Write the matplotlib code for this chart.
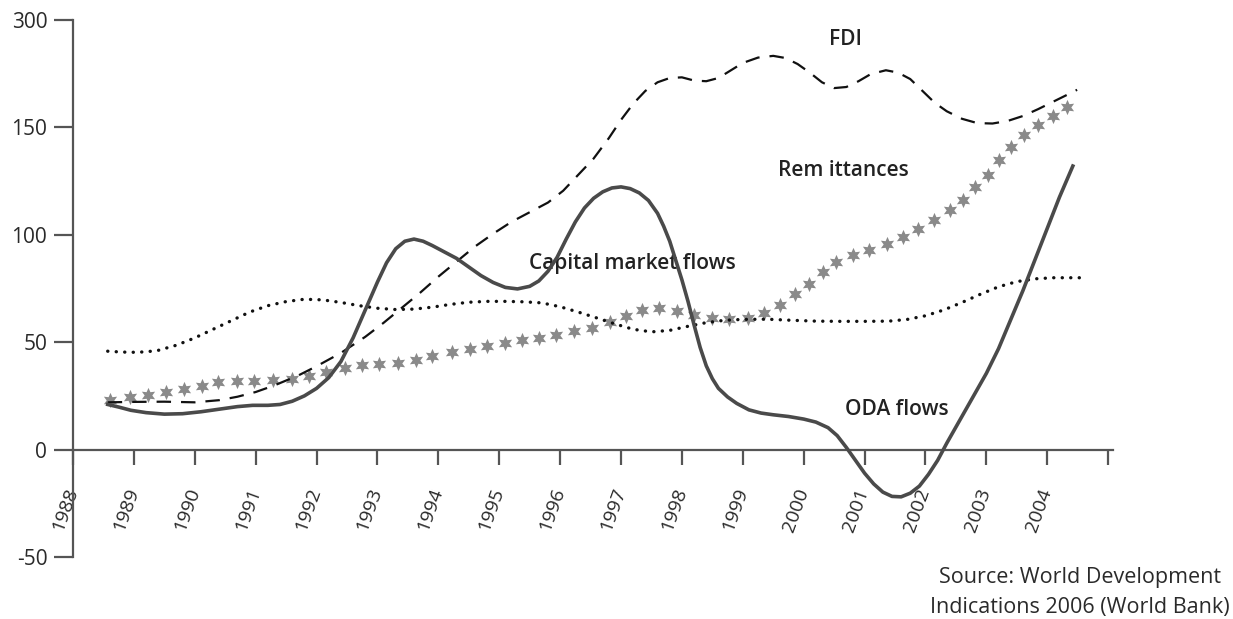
import matplotlib.pyplot as plt
from matplotlib.transforms import ScaledTranslation

plt.rcParams['font.family'] = ['Open Sans', 'DejaVu Sans']

# tick labels
years = list(range(1988, 2006))
year_labels = [str(y) for y in range(1988, 2005)] + ['']
y_ticks = [-50, 0, 50, 100, 150, 200]
y_labels = ['-50', '0', '50', '100', '150', '300']

# ODA flows (solid)
oda_x = [1988.57, 1988.75, 1988.95, 1989.2, 1989.5, 1989.8, 1990.1, 1990.4, 1990.7, 1990.95,
         1991.2, 1991.4, 1991.6, 1991.8, 1992.0, 1992.2, 1992.4, 1992.6, 1992.8, 1993.0,
         1993.15, 1993.3, 1993.45, 1993.6, 1993.75, 1993.9, 1994.1, 1994.3, 1994.5, 1994.7,
         1994.9, 1995.1, 1995.3, 1995.5, 1995.65, 1995.8, 1995.95, 1996.1, 1996.25, 1996.4,
         1996.55, 1996.7, 1996.85, 1997.0, 1997.15, 1997.3, 1997.45, 1997.6, 1997.7, 1997.8,
         1997.9, 1998.0, 1998.1, 1998.2, 1998.3, 1998.4, 1998.5, 1998.6, 1998.75, 1998.9,
         1999.1, 1999.3, 1999.5, 1999.75, 2000.0, 2000.2, 2000.4, 2000.55, 2000.7, 2000.85,
         2001.0, 2001.15, 2001.3, 2001.45, 2001.6, 2001.75, 2001.9, 2002.05, 2002.2, 2002.35,
         2002.5, 2002.65, 2002.8, 2003.0, 2003.2, 2003.4, 2003.6, 2003.8, 2004.0, 2004.2,
         2004.42]
oda_y = [21, 19.8, 18.3, 17.2, 16.5, 16.7, 17.6, 18.8, 20, 20.6,
         20.6, 21, 22.5, 25, 28.5, 33.5, 41, 52, 65, 78,
         87, 93.5, 97, 98, 97, 95, 92, 89, 85, 81,
         77.8, 75.5, 74.8, 76, 78.5, 83, 89.5, 98, 106, 112.5,
         117, 120, 121.8, 122.3, 121.5, 119.5, 116, 110, 104, 97,
         88, 79, 69, 58, 47.5, 39, 33, 28.5, 24.5, 21.5,
         18.5, 17, 16.2, 15.4, 14.2, 12.8, 10.2, 6.5, 1, -5,
         -11, -16, -19.8, -21.8, -22, -20.3, -17, -11.5, -5, 3,
         10.5, 18, 25.5, 35.5, 47, 60.5, 74, 88.5, 103, 117.5,
         132]

# FDI (dashed)
fdi_x = [1988.57, 1989.0, 1989.5, 1990.0, 1990.4, 1990.7, 1991.0, 1991.3, 1991.7, 1992.0,
         1992.4, 1992.8, 1993.1, 1993.4, 1993.7, 1994.0, 1994.3, 1994.6, 1994.9, 1995.2,
         1995.5, 1995.8, 1996.05, 1996.3, 1996.55, 1996.8, 1997.0, 1997.2, 1997.4, 1997.6,
         1997.8, 1998.0, 1998.2, 1998.4, 1998.6, 1998.8, 1999.0, 1999.25, 1999.5, 1999.7,
         1999.9, 2000.1, 2000.3, 2000.5, 2000.7, 2000.9, 2001.1, 2001.35, 2001.55, 2001.75,
         2001.95, 2002.15, 2002.35, 2002.6, 2002.85, 2003.1, 2003.35, 2003.6, 2003.85, 2004.1,
         2004.3, 2004.49]
fdi_y = [22, 22.2, 22.3, 22, 23, 24.6, 26.8, 29.8, 34.5, 38.8,
         45, 52.5, 59, 66, 73, 80.5, 87.5, 94.5, 100.5, 106,
         110.5, 115, 120.5, 128, 135.5, 145, 153.5, 161, 167, 171,
         173, 173.3, 171.8, 171.5, 173, 176.5, 180, 182.5, 183.3, 182.3,
         179.5, 175.5, 171, 168.3, 168.8, 171.5, 174.8, 176.6, 175.5, 172.5,
         167, 161.5, 157.5, 154, 152, 151.8, 153, 155.3, 158.5, 162,
         164.8, 167.5]

# Capital market flows (dotted)
cap_x = [1988.57, 1988.8, 1989.0, 1989.2, 1989.4, 1989.7, 1990.0, 1990.3, 1990.6, 1990.9,
         1991.2, 1991.5, 1991.8, 1992.1, 1992.4, 1992.7, 1993.0, 1993.3, 1993.6, 1993.9,
         1994.2, 1994.5, 1994.8, 1995.1, 1995.4, 1995.7, 1996.0, 1996.3, 1996.6, 1996.9,
         1997.2, 1997.5, 1997.8, 1998.1, 1998.4, 1998.7, 1999.0, 1999.4, 1999.8, 2000.2,
         2000.6, 2001.0, 2001.4, 2001.7, 2002.0, 2002.3, 2002.6, 2002.9, 2003.2, 2003.5,
         2003.8, 2004.1, 2004.66]
cap_y = [45.8, 45.4, 45.3, 45.5, 46.2, 48.6, 52, 56, 60, 64,
         67, 68.9, 70, 69.7, 68.5, 67, 65.8, 65.2, 65.4, 66.3,
         67.6, 68.6, 69, 69, 68.8, 68.3, 66.5, 64, 61.3, 58.5,
         56, 54.8, 55.5, 57.4, 59.1, 60.2, 60.6, 60.7, 60.2, 59.8,
         59.7, 59.7, 59.8, 60.6, 62.3, 65, 68.5, 72.3, 75.8, 78.2,
         79.5, 80, 80]

# Remittances (grey stars)
rem_x = [1988.61, 1988.94, 1989.23, 1989.53, 1989.83, 1990.12, 1990.38, 1990.70, 1990.98, 1991.29,
         1991.59, 1991.87, 1992.16, 1992.46, 1992.75, 1993.03, 1993.33, 1993.64, 1993.89, 1994.22,
         1994.52, 1994.80, 1995.09, 1995.38, 1995.65, 1995.94, 1996.23, 1996.52, 1996.82, 1997.08,
         1997.34, 1997.63, 1997.92, 1998.20, 1998.50, 1998.78, 1999.08, 1999.35, 1999.61, 1999.85,
         2000.09, 2000.31, 2000.53, 2000.81, 2001.08, 2001.36, 2001.63, 2001.88, 2002.14, 2002.40,
         2002.62, 2002.81, 2003.03, 2003.21, 2003.40, 2003.62, 2003.85, 2004.10, 2004.33]
rem_y = [22.9, 24.3, 25.2, 26.6, 28.0, 29.4, 31.3, 31.8, 31.8, 32.2,
         32.7, 34.1, 36.0, 37.9, 39.3, 39.7, 40.2, 41.6, 43.5, 45.2,
         46.7, 48.0, 49.5, 51.1, 52.0, 53.4, 55.0, 56.5, 59.2, 62.3,
         65.1, 65.9, 64.3, 62.8, 61.1, 60.7, 61.1, 63.6, 67.4, 72.4,
         77.1, 82.6, 87.2, 90.8, 93.1, 95.8, 98.9, 102.5, 106.7, 111.4,
         116.0, 122.3, 128.0, 134.7, 141.0, 146.4, 151.1, 155.1, 159.7]

fig = plt.figure(figsize=(12.33, 6.19), dpi=100)
ax = fig.add_axes([0.0592, 0.1002, 0.8435, 0.8675])

ax.plot(rem_x, rem_y, linestyle='none', marker=(6, 1, 0), markersize=11,
        color='#8a8a8a', markeredgewidth=0, zorder=2)
ax.plot(fdi_x, fdi_y, color='#111111', lw=1.6, dashes=(6.5, 4.5), zorder=3)
ax.plot(cap_x, cap_y, color='#111111', lw=2.4, linestyle=(0, (0.05, 2.5)),
        dash_capstyle='round', zorder=3)
ax.plot(oda_x, oda_y, color='#4a4a4a', lw=2.6, solid_joinstyle='round', zorder=4)

ax.set_xlim(1988, 2005.08)
ax.set_ylim(-50, 200)

ax.spines['top'].set_visible(False)
ax.spines['right'].set_visible(False)
ax.spines['bottom'].set_position(('data', 0))
for s in ['left', 'bottom']:
    ax.spines[s].set_color('#555555')
    ax.spines[s].set_linewidth(1.6)

ax.set_yticks(y_ticks)
ax.set_yticklabels(y_labels, fontsize=15, color='#2a2a2a')
ax.tick_params(axis='y', direction='out', length=13.5, width=1.6, color='#555555', pad=5)

ax.set_xticks(years)
ax.set_xticklabels(year_labels, fontsize=14, color='#2a2a2a', rotation=70,
                   ha='right', va='top')
ax.tick_params(axis='x', direction='out', length=11, width=1.6, color='#555555', pad=15)
offset = ScaledTranslation(8 / 100, 0, fig.dpi_scale_trans)
for lab in ax.get_xticklabels():
    lab.set_transform(lab.get_transform() + offset)

# series labels
lbl = dict(fontsize=15, fontweight='semibold', color='#222222', ha='center', va='center')
ax.text(2000.68, 190.7, 'FDI', **lbl)
ax.text(2000.65, 129.9, 'Rem ittances', **lbl)
ax.text(1997.18, 86.4, 'Capital market flows', **lbl)
ax.text(2001.53, 18.7, 'ODA flows', **lbl)

fig.text(1080 / 1233, 1 - 578 / 619, 'Source: World Development', fontsize=15.5,
         color='#2a2a2a', ha='center', va='center')
fig.text(1080 / 1233, 1 - 607 / 619, 'Indications 2006 (World Bank)', fontsize=15.5,
         color='#2a2a2a', ha='center', va='center')

fig.savefig('out.png', dpi=100)
